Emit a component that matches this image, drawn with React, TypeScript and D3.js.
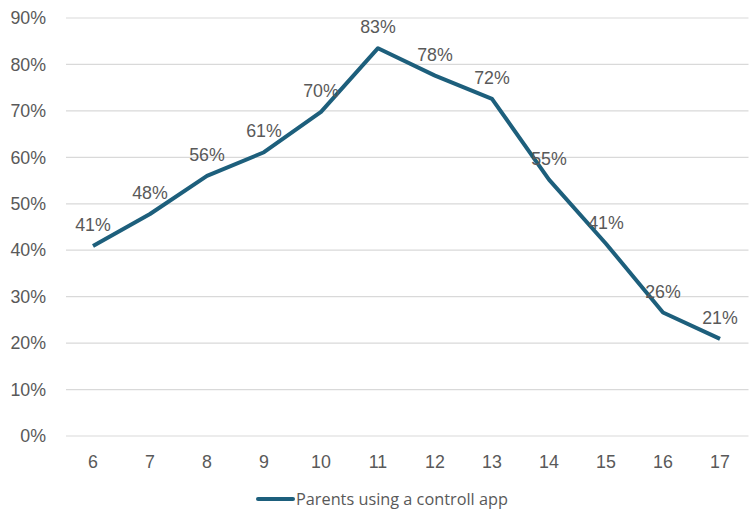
import React, { useEffect, useRef } from 'react';
import * as d3 from 'd3';

const ages = ['6', '7', '8', '9', '10', '11', '12', '13', '14', '15', '16', '17'];
const shares = [0.409, 0.478, 0.56, 0.611, 0.698, 0.835, 0.776, 0.726, 0.552, 0.414, 0.266, 0.209];
const labels = ['41%', '48%', '56%', '61%', '70%', '83%', '78%', '72%', '55%', '41%', '26%', '21%'];
const yTicks = [0, 0.1, 0.2, 0.3, 0.4, 0.5, 0.6, 0.7, 0.8, 0.9];
const seriesName = 'Parents using a controll app';

const App = () => {
  const ref = useRef<SVGSVGElement>(null);
  const width = 754;
  const height = 514;
  const plot = { left: 64.5, right: 748.5, top: 18, bottom: 436 };
  const lineColor = '#1d5f7c';
  const textColor = '#595959';
  const font = '"Liberation Sans", Arial, sans-serif';
  const fs = 17.8;

  useEffect(() => {
    const svg = d3.select(ref.current);
    svg.selectAll('*').remove();

    const x = d3.scaleBand().domain(ages).range([plot.left, plot.right]).padding(0);
    const y = d3.scaleLinear().domain([0, 0.9]).range([plot.bottom, plot.top]);
    const cx = (a: string) => (x(a) as number) + x.bandwidth() / 2;

    // gridlines
    svg.append('g')
      .selectAll('line')
      .data(yTicks)
      .join('line')
      .attr('x1', plot.left + 1.5)
      .attr('x2', plot.right)
      .attr('y1', d => y(d))
      .attr('y2', d => y(d))
      .attr('stroke', '#d9d9d9')
      .attr('stroke-width', 1.2);

    // y labels
    svg.append('g')
      .selectAll('text')
      .data(yTicks)
      .join('text')
      .attr('x', 46)
      .attr('y', d => y(d))
      .attr('dy', '0.35em')
      .attr('text-anchor', 'end')
      .attr('font-family', font)
      .attr('font-size', fs)
      .attr('fill', textColor)
      .text(d => `${Math.round(d * 100)}%`);

    // x labels
    svg.append('g')
      .selectAll('text')
      .data(ages)
      .join('text')
      .attr('x', d => cx(d))
      .attr('y', 462)
      .attr('dy', '0.35em')
      .attr('text-anchor', 'middle')
      .attr('font-family', font)
      .attr('font-size', fs)
      .attr('fill', textColor)
      .text(d => d);

    // line
    const line = d3.line<number>()
      .x((_, i) => cx(ages[i]))
      .y(d => y(d));

    svg.append('path')
      .datum(shares)
      .attr('d', line)
      .attr('fill', 'none')
      .attr('stroke', lineColor)
      .attr('stroke-width', 4)
      .attr('stroke-linejoin', 'round');

    // data labels
    svg.append('g')
      .selectAll('text')
      .data(shares)
      .join('text')
      .attr('x', (_, i) => cx(ages[i]))
      .attr('y', d => y(d) - 21)
      .attr('dy', '0.35em')
      .attr('text-anchor', 'middle')
      .attr('font-family', font)
      .attr('font-size', fs)
      .attr('fill', textColor)
      .text((_, i) => labels[i]);

    // legend
    const lg = svg.append('g');
    lg.append('line')
      .attr('x1', 258)
      .attr('x2', 293)
      .attr('y1', 499)
      .attr('y2', 499)
      .attr('stroke', lineColor)
      .attr('stroke-width', 4)
      .attr('stroke-linecap', 'round');
    lg.append('text')
      .attr('x', 296)
      .attr('y', 499)
      .attr('dy', '0.35em')
      .attr('font-family', '"Open Sans", sans-serif')
      .attr('font-size', 16.3)
      .attr('fill', textColor)
      .text(seriesName);
  }, []);

  return (
    <svg
      ref={ref}
      width={width}
      height={height}
      style={{ position: 'absolute', left: 0, top: 0, background: '#fff' }}
    />
  );
};

export default App;
